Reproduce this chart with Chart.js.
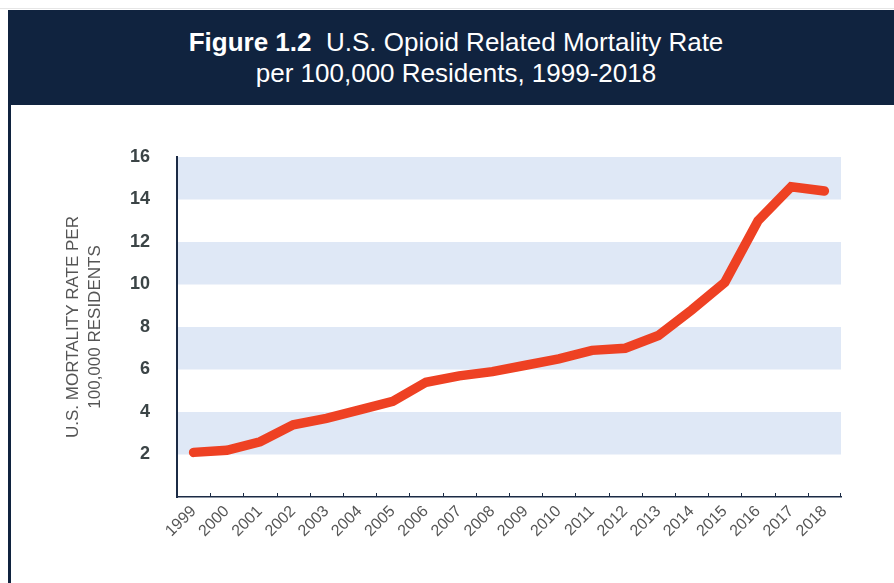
<!DOCTYPE html>
<html lang="en">
  <head>
    <meta charset="UTF-8" />
    <title>Opioid Mortality</title>
    <script src="https://cdn.jsdelivr.net/npm/chart.js"></script>
    <style>
      html, body { margin: 0; padding: 0; background: #fff; }
      body { width: 894px; height: 583px; position: relative; overflow: hidden; font-family: "Liberation Sans", Arial, sans-serif; }
      .banner {
        position: absolute; left: 8px; top: 10px; right: 0; height: 95px;
        background: #10233f; color: #fff; text-align: center;
        font-size: 26px; line-height: 31px; padding-top: 17px; box-sizing: border-box;
        padding-left: 10px;
      }
      .topline { position: absolute; left: 0; right: 0; top: 8px; height: 1px; background: #e6e6e6; }
      .leftline { position: absolute; left: 8px; top: 105px; bottom: 0; width: 3px; background: #10233f; }
      #wrap { position: absolute; left: 0; top: 0; width: 894px; height: 583px; }
    </style>
  </head>
  <body>
    <div class="topline"></div>
    <div class="banner"><b>Figure 1.2</b>&nbsp; U.S. Opioid Related Mortality Rate<br>per 100,000 Residents, 1999-2018</div>
    <div class="leftline"></div>
    <div id="wrap"><canvas id="c" width="894" height="583"></canvas></div>
    <script>
      const years = ["1999", "2000", "2001", "2002", "2003", "2004", "2005", "2006", "2007", "2008",
                     "2009", "2010", "2011", "2012", "2013", "2014", "2015", "2016", "2017", "2018"];
      const rates = [2.1, 2.2, 2.6, 3.4, 3.7, 4.1, 4.5, 5.4, 5.7, 5.9,
                     6.2, 6.5, 6.9, 7.0, 7.6, 8.8, 10.1, 13.0, 14.6, 14.4];
      const yTicks = [2, 4, 6, 8, 10, 12, 14, 16];
      const bands = [[2, 4], [6, 8], [10, 12], [14, 16]];

      const navy = "#1b2b45";

      const decor = {
        id: "decor",
        beforeDatasetsDraw(chart) {
          const { ctx, chartArea, scales } = chart;
          ctx.save();
          ctx.fillStyle = "#dfe8f6";
          for (const [a, b] of bands) {
            const y1 = scales.y.getPixelForValue(b);
            const y2 = scales.y.getPixelForValue(a);
            ctx.fillRect(chartArea.left + 1, y1, chartArea.right - chartArea.left - 1, y2 - y1);
          }
          ctx.restore();
        },
        afterDraw(chart) {
          const { ctx, chartArea, scales } = chart;
          const x = scales.x;
          ctx.save();
          ctx.strokeStyle = navy;
          ctx.lineWidth = 1;
          for (let i = 1; i <= years.length; i++) {
            const px = Math.round((x.getPixelForValue(i - 1) + x.getPixelForValue(i)) / 2) + 0.5;
            const xx = i === years.length ? chartArea.right - 0.5 : px;
            ctx.beginPath();
            ctx.moveTo(xx, chartArea.bottom);
            ctx.lineTo(xx, chartArea.bottom - 4);
            ctx.stroke();
          }
          ctx.restore();
        }
      };

      new Chart(document.getElementById("c"), {
        type: "line",
        data: {
          labels: years,
          datasets: [{
            data: rates,
            borderColor: "#ee4123",
            borderWidth: 9.5,
            borderCapStyle: "round",
            pointRadius: 0,
            tension: 0,
          }],
        },
        options: {
          responsive: false,
          animation: false,
          layout: { padding: { left: 55, top: 157, right: 53, bottom: 0 } },
          plugins: { legend: { display: false }, tooltip: { enabled: false } },
          scales: {
            x: {
              offset: true,
              grid: { display: false },
              border: { display: true, color: navy, width: 1.5 },
              ticks: {
                maxRotation: 45, minRotation: 45, autoSkip: false,
                color: "#555", padding: -3,
                font: { family: "'Liberation Sans', Arial, sans-serif", size: 16 },
              },
              afterFit(s) { s.height = 86; },
            },
            y: {
              min: 0, max: 16,
              grid: { display: false },
              border: { display: true, color: navy, width: 2 },
              afterBuildTicks(s) { s.ticks = yTicks.map(v => ({ value: v })); },
              afterFit(s) { s.width = 122; },
              ticks: {
                color: "#3b4446", padding: 19,
                font: { family: "'Liberation Sans', Arial, sans-serif", size: 18, weight: "bold" },
              },
              title: {
                display: true,
                text: ["U.S. MORTALITY RATE PER", "100,000 RESIDENTS"],
                color: "#555",
                padding: { top: 7, bottom: 0 },
                font: { family: "'Liberation Sans', Arial, sans-serif", size: 17, lineHeight: 1.3 },
              },
            },
          },
        },
        plugins: [decor],
      });
    </script>
  </body>
</html>
